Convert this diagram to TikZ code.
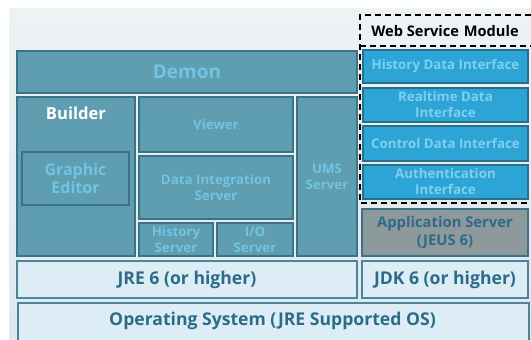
\documentclass[tikz,border=0pt]{standalone}
\usepackage{fontspec}
\setmainfont{Open Sans}
\definecolor{tealfill}{HTML}{5F9DB0}
\definecolor{tealedge}{HTML}{3C7285}
\definecolor{tealtext}{HTML}{72C4E2}
\definecolor{ifill}{HTML}{2CA4D6}
\definecolor{iedge}{HTML}{2A6F8A}
\definecolor{itext}{HTML}{80CFEF}
\definecolor{appfill}{HTML}{8E999C}
\definecolor{darktext}{HTML}{2E6B88}
\definecolor{basefill}{HTML}{DCEDF6}
\definecolor{baseedge}{HTML}{4C8597}
\definecolor{bgtop}{HTML}{EDF2F5}
\definecolor{bgbot}{HTML}{DDE8EF}
\tikzset{
  box/.style={rectangle, draw, line width=1.6pt, inner sep=1pt, align=center, font=\bfseries},
  tealbox/.style={box, fill=tealfill, draw=tealedge, text=tealtext, font=\bfseries\fontsize{13.3}{16}\selectfont},
  ibox/.style={box, fill=ifill, draw=iedge, text=itext, minimum width=165pt, font=\bfseries\fontsize{13.3}{16}\selectfont},
  basebox/.style={box, fill=basefill, draw=baseedge, text=darktext, font=\bfseries\fontsize{17.6}{18}\selectfont},
  modline/.style={line width=2pt, black, dash pattern=on 6pt off 4pt}
}
\begin{document}
\begin{tikzpicture}[x=1pt,y=-1pt]
\useasboundingbox (0,0) rectangle (531,340);
\fill[white] (0,0) rectangle (531,340);
\shade[top color=bgtop, bottom color=bgbot] (9,8) rectangle (531,340);
% left stack
\node[tealbox, minimum width=340pt, minimum height=42pt, font=\bfseries\fontsize{19}{18}\selectfont] (demon) at (187,72) {Demon};
\node[tealbox, minimum width=118pt, minimum height=159pt] (builder) at (76,176.5) {};
\node[text=white, font=\bfseries\fontsize{16.6}{17}\selectfont] (builderlbl) at (76,113) {Builder};
\node[tealbox, minimum width=107pt, minimum height=53pt, font=\bfseries\fontsize{16}{18}\selectfont] (editor) at (75.5,178.5) {Graphic\\Editor};
\node[tealbox, minimum width=154pt, minimum height=55pt] (viewer) at (216,124.5) {Viewer};
\node[tealbox, minimum width=154pt, minimum height=63pt] (dis) at (216,187.5) {Data Integration\\Server};
\node[tealbox, minimum width=74pt, minimum height=33pt] (hist) at (176,239.5) {History\\Server};
\node[tealbox, minimum width=76pt, minimum height=33pt] (io) at (255,239.5) {I/O\\Server};
\node[tealbox, minimum width=60pt, minimum height=159pt] (ums) at (327,176.5) {UMS\\Server};
% web service module
\node[ibox, minimum height=33pt] (hdi) at (445.5,66.5) {History Data Interface};
\node[ibox, minimum height=34pt] (rdi) at (445.5,105) {Realtime Data\\Interface};
\node[ibox, minimum height=35pt] (cdi) at (445.5,143.5) {Control Data Interface};
\node[ibox, minimum height=34pt] (adi) at (445.5,182) {Authentication\\Interface};
\node[font=\bfseries\fontsize{14.6}{15}\selectfont, text=black] (wsm) at (445,31) {Web Service\,\,Module};
\draw[modline] (531,15) -- (360,15) -- (360,203) -- (531,203);
\draw[modline] (360,46) -- (531,46);
\node[box, fill=appfill, draw=tealedge, text=darktext, minimum width=166pt, minimum height=47pt, font=\bfseries\fontsize{14.8}{18.5}\selectfont] (app) at (445,232.5) {Application Server\\(JEUS 6)};
% base
\node[basebox, minimum width=340pt, minimum height=37pt] (jre) at (187,279.5) {JRE 6 (or higher)};
\node[basebox, minimum width=166pt, minimum height=37pt] (jdk) at (445,279.5) {JDK 6 (or higher)};
\node[basebox, minimum width=511pt, minimum height=40pt, anchor=north west] (os) at (17,302) {};
\node[text=darktext, font=\bfseries\fontsize{17.6}{18}\selectfont] (oslbl) at (272.5,321) {Operating System (JRE Supported OS)};
\end{tikzpicture}
\end{document}
